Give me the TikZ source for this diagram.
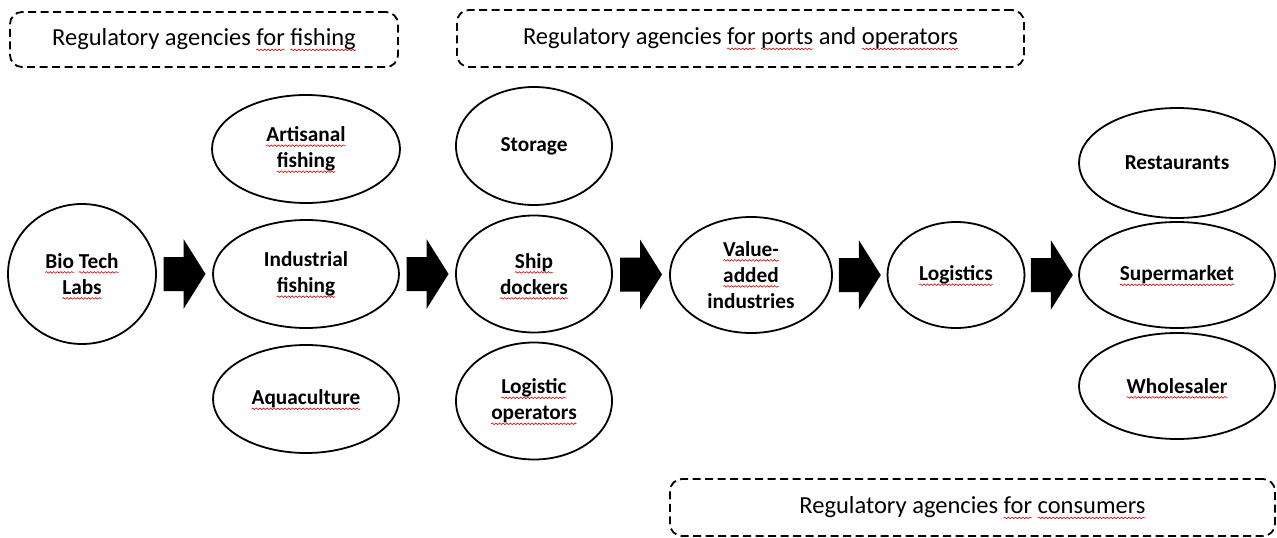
\documentclass[tikz,border=0pt]{standalone}
\usepackage{fontspec}
\setmainfont{Carlito}
\usetikzlibrary{shapes.geometric,calc,decorations.pathmorphing}
\newlength\sqwlen
\newcommand\sqw[1]{\settowidth\sqwlen{#1}\rlap{\tikz[baseline=0pt,x=1pt,y=1pt]{\useasboundingbox (0pt,0pt) rectangle (\sqwlen,0pt);
 \draw[red!85!black,solid,sharp corners,line width=0.6pt,decorate,decoration={snake,amplitude=0.8pt,segment length=3.6pt}] (0pt,-4pt) -- (\sqwlen,-4pt);}}#1}
\tikzset{
  ell/.style={ellipse, draw=black, line width=1.8, inner sep=0pt, align=center,
    font=\fontsize{21.3}{26}\selectfont\bfseries},
  regbox/.style={draw=black, line width=1.8, dash pattern=on 8 off 4.5, rounded corners=12},
  regtext/.style={inner sep=0pt, font=\fontsize{24.5}{29}\selectfont},
  blockarr/.pic={\fill[black] (-21,-17) -- (-1,-17) -- (-1,-35) -- (21,0) -- (-1,35) -- (-1,17) -- (-21,17) -- cycle;}
}
\begin{document}
\begin{tikzpicture}[x=1pt,y=-1pt]
\useasboundingbox (0,0) rectangle (1277,538);
% regulatory boxes
\node[regbox, minimum width=388, minimum height=55] (r1) at (204,39.5) {};
\node[regtext] (t1) at (r1.center) {Regulatory agencies \sqw{for} \sqw{fishing}};
\node[regbox, minimum width=567, minimum height=57] (r2) at (740.5,38.5) {};
\node[regtext] (t2) at (r2.center) {Regulatory agencies \sqw{for} \sqw{ports} and \sqw{operators}};
\node[regbox, minimum width=605, minimum height=57] (r3) at (972.5,507.5) {};
\node[regtext] (t3) at (r3.center) {Regulatory agencies \sqw{for} \sqw{consumers}};
% column 1
\node[ell, minimum width=148, minimum height=140] (bio) at (82,274) {\sqw{Bio} \sqw{Tech}\\\sqw{Labs}};
% column 2
\node[ell, minimum width=188, minimum height=108] (art) at (306,149) {\sqw{Artisanal}\\\sqw{fishing}};
\node[ell, minimum width=186, minimum height=108] (ind) at (306,274) {Industrial\\\sqw{fishing}};
\node[ell, minimum width=186, minimum height=108] (aqu) at (306,399) {\sqw{Aquaculture}};
% column 3
\node[ell, minimum width=156, minimum height=118] (sto) at (534,146) {Storage};
\node[ell, minimum width=156, minimum height=117] (shi) at (534,274) {\sqw{Ship}\\\sqw{dockers}};
\node[ell, minimum width=156, minimum height=117] (lop) at (534,401) {\sqw{Logistic}\\\sqw{operators}};
% column 4
\node[ell, minimum width=162, minimum height=116] (val) at (751,275) {\sqw{Value-}\\\sqw{added}\\industries};
% column 5
\node[ell, minimum width=137, minimum height=106] (log) at (956,275) {\sqw{Logistics}};
% column 6
\node[ell, minimum width=196, minimum height=110] (res) at (1177,163) {Restaurants};
\node[ell, minimum width=196, minimum height=106] (sup) at (1177,275) {\sqw{Supermarket}};
\node[ell, minimum width=196, minimum height=106] (who) at (1177,386) {\sqw{Wholesaler}};
% block arrows
\pic at ($(bio.east)!0.5!(ind.west)$) {blockarr};
\pic at ($(ind.east)!0.5!(shi.west)$) {blockarr};
\pic at ($(shi.east)!0.5!(val.west)$) {blockarr};
\pic at ($(val.east)!0.5!(log.west)$) {blockarr};
\pic at ($(log.east)!0.5!(sup.west)$) {blockarr};
\end{tikzpicture}
\end{document}
